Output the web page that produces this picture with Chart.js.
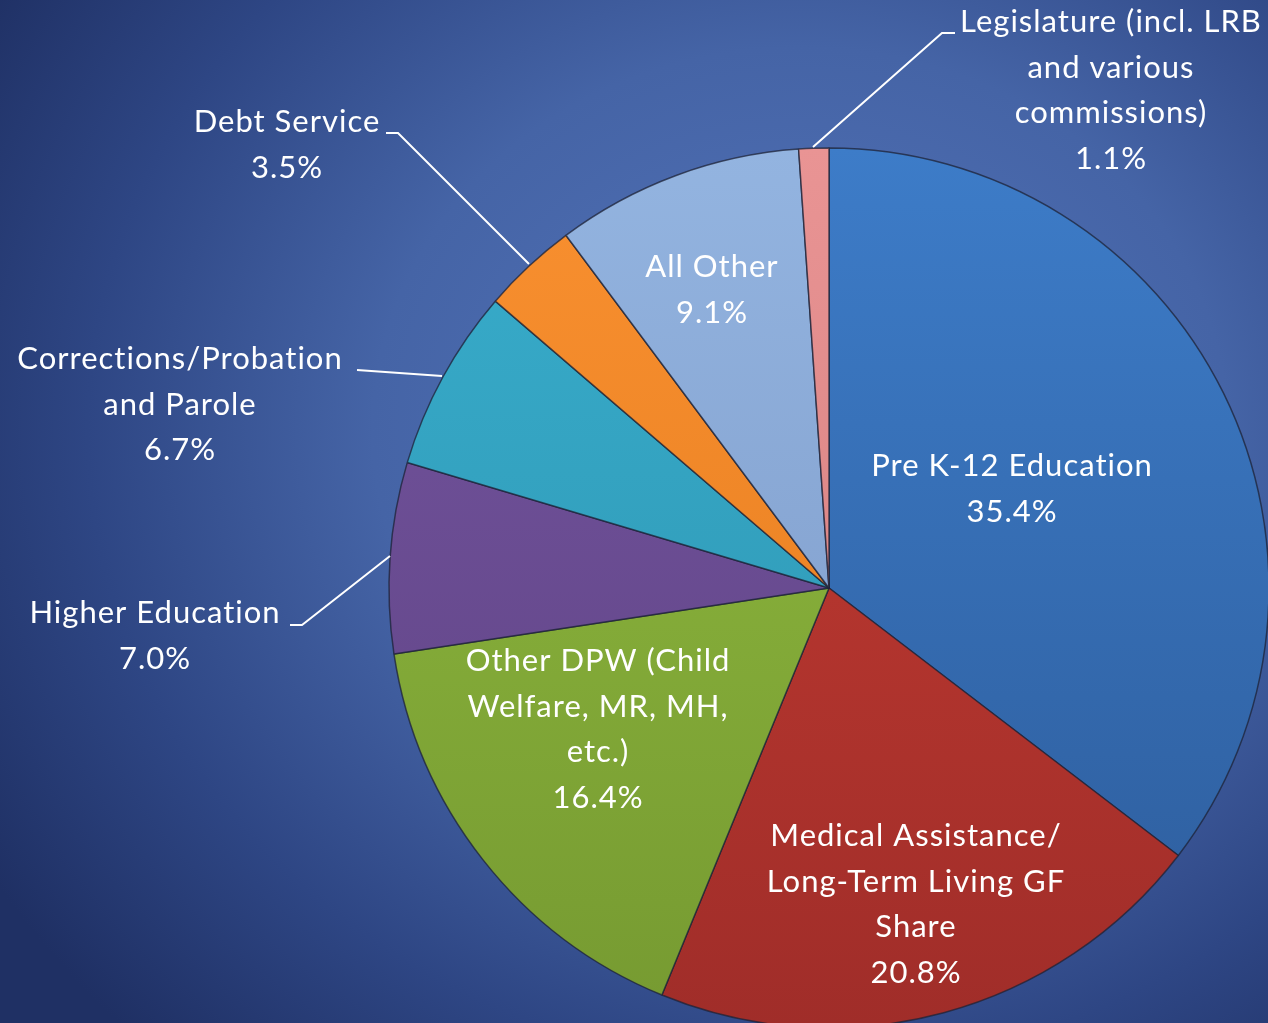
<!DOCTYPE html>
<html>
<head>
<meta charset="utf-8">
<script src="https://cdn.jsdelivr.net/npm/chart.js@4.4.1/dist/chart.umd.min.js"></script>
<style>
  html, body { margin: 0; padding: 0; }
  body {
    width: 1268px; height: 1023px; overflow: hidden;
    background: radial-gradient(ellipse 950px 850px at 800px 430px, #5474ba 0%, #4564a6 45%, #2e4684 75%, #1f3064 100%);
  }
  #wrap { position: relative; width: 1268px; height: 1023px; }
</style>
</head>
<body>
<div id="wrap"><canvas id="budgetPie" width="1268" height="1023"></canvas></div>
<script>
// slices clockwise from 12 o'clock
const categories = [
  'Pre K-12 Education',
  'Medical Assistance/ Long-Term Living GF Share',
  'Other DPW (Child Welfare, MR, MH, etc.)',
  'Higher Education',
  'Corrections/Probation and Parole',
  'Debt Service',
  'All Other',
  'Legislature (incl. LRB and various commissions)'
];
const shares = [35.4, 20.8, 16.4, 7.0, 6.7, 3.5, 9.1, 1.1];

// label lines as shown on the slide (name lines, the % line is added from shares)
const labelLines = [
  ['Pre K-12 Education'],
  ['Medical Assistance/', 'Long-Term Living GF', 'Share'],
  ['Other DPW (Child', 'Welfare, MR, MH,', 'etc.)'],
  ['Higher Education'],
  ['Corrections/Probation', 'and Parole'],
  ['Debt Service'],
  ['All Other'],
  ['Legislature (incl. LRB', 'and various', 'commissions)']
];

// top / bottom shades per slice
const topColors = ['#3d7cc8', '#c73d33', '#92bd40', '#74559f', '#38adcc', '#f99030', '#93b4e0', '#e99494'];
const bottomColors = ['#2d5c9b', '#a02d29', '#769a31', '#5e4283', '#2d92ae', '#e27a1c', '#7b97c5', '#d07a7a'];

// label placement: [x, y of first line, leader line points or null]
const labelPos = [
  { x: 1012, y: 466, line: null },
  { x: 916, y: 836, line: null },
  { x: 598, y: 661, line: null },
  { x: 155, y: 613, line: [[290, 625], [302, 625], [390, 556]] },
  { x: 180, y: 359, line: [[357, 370], [442, 376]] },
  { x: 287, y: 122, line: [[386, 133], [398, 133], [529, 264]] },
  { x: 712, y: 267, line: null },
  { x: 1111, y: 22, line: [[955, 33], [942, 33], [813, 147]] }
];

const FONT = '31px Lato, "Open Sans", sans-serif';
const LINE_H = 45.5;

const labelPlugin = {
  id: 'sliceLabels',
  afterDatasetsDraw(chart) {
    const c = chart.ctx;
    c.save();
    c.strokeStyle = '#ffffff';
    c.lineWidth = 2;
    labelPos.forEach((p) => {
      if (!p.line) return;
      c.beginPath();
      p.line.forEach((pt, i) => i ? c.lineTo(pt[0], pt[1]) : c.moveTo(pt[0], pt[1]));
      c.stroke();
    });
    c.fillStyle = '#ffffff';
    c.font = FONT;
    c.letterSpacing = '1px'; // wider like the slide font, also kills the "ti" ligature
    c.textAlign = 'center';
    c.textBaseline = 'middle';
    labelLines.forEach((lines, i) => {
      const all = lines.concat([shares[i].toFixed(1) + '%']);
      all.forEach((t, k) => c.fillText(t, labelPos[i].x, labelPos[i].y + k * LINE_H));
    });
    c.restore();
  }
};

const ctx = document.getElementById('budgetPie');
new Chart(ctx, {
  type: 'pie',
  data: {
    labels: categories,
    datasets: [{
      data: shares,
      backgroundColor: (context) => {
        const i = context.dataIndex;
        const area = context.chart.chartArea;
        if (!area) return topColors[i];
        const g = context.chart.ctx.createLinearGradient(0, 148, 0, 1028);
        g.addColorStop(0, topColors[i]);
        g.addColorStop(1, bottomColors[i]);
        return g;
      },
      borderColor: 'rgba(30, 35, 55, 0.75)',
      borderWidth: 1.5,
      radius: 440
    }]
  },
  plugins: [labelPlugin],
  options: {
    responsive: false,
    animation: false,
    layout: { padding: { left: 390, right: 0, top: 153, bottom: 0 } },
    plugins: {
      legend: { display: false },
      tooltip: { enabled: false }
    }
  }
});
</script>
</body>
</html>
